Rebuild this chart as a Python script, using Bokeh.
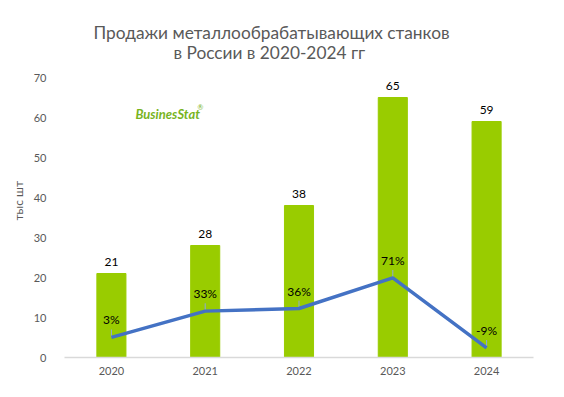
from bokeh.plotting import figure
from bokeh.models import Range1d, FactorRange, Label, ColumnDataSource, Title
from bokeh.core.properties import value
from bokeh.embed import file_html
from bokeh.resources import INLINE

years = ["2020", "2021", "2022", "2023", "2024"]
sales = [21, 28, 38, 65, 59]
growth = [3, 33, 36, 71, -9]
growth_labels = ["3%", "33%", "36%", "71%", "-9%"]
title_lines = ["Продажи металлообрабатывающих станков", "в России в  2020-2024 гг"]
y_title = "тыс шт"

FONT = "Lato"
Y_MAX = 70
# the invisible frame extends up to the page top so titles can live inside it
Y_TOP = Y_MAX + 77 / 4
PCT_LO, PCT_HI = -20, 300
PCT_TOP = PCT_LO + (PCT_HI - PCT_LO) * Y_TOP / Y_MAX

p = figure(width=560, height=395, x_range=FactorRange(*years), y_range=Range1d(0, Y_TOP),
           output_backend="svg", toolbar_location=None,
           min_border_left=64, min_border_right=27, min_border_top=0, min_border_bottom=38)
p.extra_y_ranges = {"pct": Range1d(PCT_LO, PCT_TOP)}
p.outline_line_color = None
p.xgrid.visible = False
p.ygrid.visible = False

src = ColumnDataSource(dict(x=years, y=sales, g=growth, gl=growth_labels,
                            sl=[str(v) for v in sales],
                            g2=[v + 9 for v in growth]))

p.vbar(x="x", top="y", width=0.31, color="#99CC00", source=src)
p.text(x="x", y="y", text="sl", source=src, text_align="center", text_baseline="bottom",
       y_offset=-8, text_font=value(FONT), text_font_size="12px", text_color="#000000")

p.segment(x0="x", y0="g", x1="x", y1="g2", source=src, y_range_name="pct",
          line_color="#8EA9DB", line_width=1)
p.line(x="x", y="g", source=src, y_range_name="pct", line_color="#4472C4", line_width=3.5)
p.text(x="x", y="g", text="gl", source=src, y_range_name="pct", text_align="center",
       text_baseline="bottom", y_offset=-10, text_font=value(FONT), text_font_size="12px",
       text_color="#000000")

p.yaxis.axis_line_color = None
p.yaxis.major_tick_line_color = None
p.yaxis.minor_tick_line_color = None
p.yaxis.major_label_text_color = "#595959"
p.yaxis.major_label_text_font = FONT
p.yaxis.major_label_text_font_size = "11px"
p.yaxis.major_label_standoff = 12
p.yaxis.ticker = list(range(0, Y_MAX + 1, 10))

p.xaxis.axis_line_color = "#D9D9D9"
p.xaxis.axis_line_width = 1.5
p.xaxis.major_tick_line_color = None
p.xaxis.minor_tick_line_color = None
p.xaxis.major_label_text_color = "#595959"
p.xaxis.major_label_text_font = FONT
p.xaxis.major_label_text_font_size = "11px"
p.xaxis.major_label_standoff = 3

for i, t in enumerate(title_lines):
    p.add_layout(Label(x=2.207, y=Y_TOP - 8 - i * 5, text=t, text_align="center",
                       text_baseline="middle", text_font=FONT, text_font_size="17.3px",
                       text_color="#595959"))

p.add_layout(Title(text=y_title, align="left", offset=137, text_font=FONT,
                   text_font_size="12px", text_font_style="normal",
                   text_color="#595959", standoff=10), "left")

p.add_layout(Label(x=1.1, y=61, text="BusinesStat", text_align="center",
                   text_baseline="middle", text_font=FONT, text_font_size="13px",
                   text_font_style="bold italic", text_color="#78B41E"))
p.add_layout(Label(x=1.45, y=62.6, text="®", text_align="center",
                   text_baseline="middle", text_font=FONT, text_font_size="7px",
                   text_color="#78B41E"))

open("out.html", "w").write(file_html(p, INLINE))
